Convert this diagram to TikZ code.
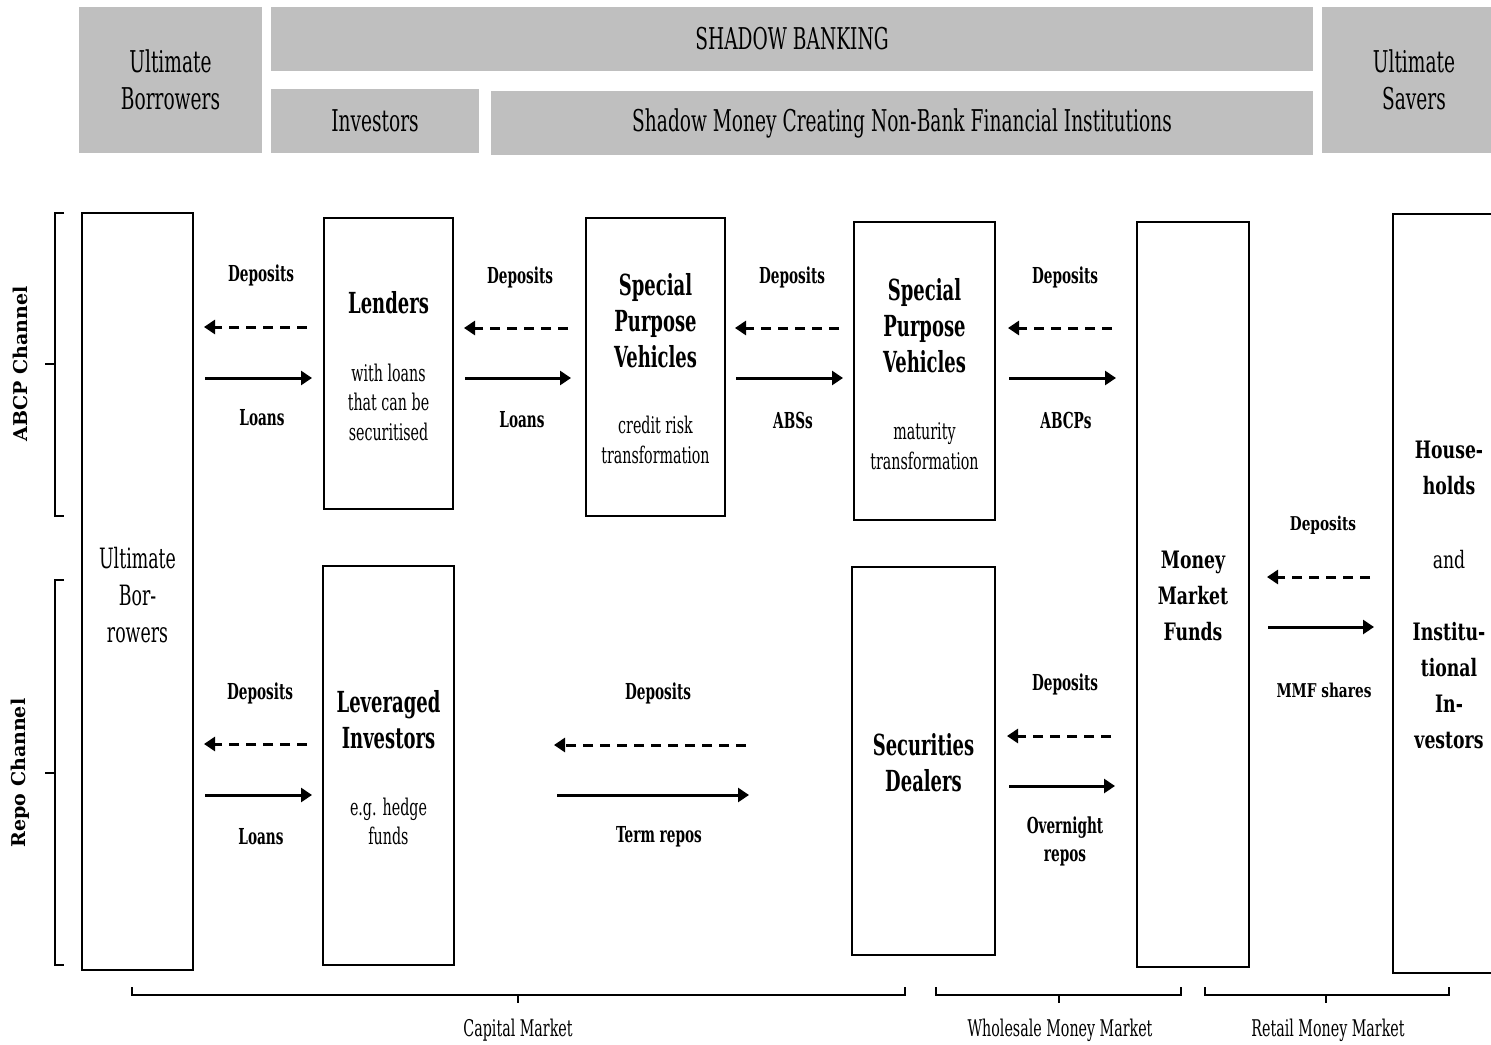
\documentclass[tikz,border=0pt]{standalone}
\usepackage{fontspec}
\setmainfont{DejaVu Serif}
\newfontfamily\cnd[FakeStretch=0.62]{DejaVu Serif}
\newfontfamily\wid[FakeStretch=0.72]{DejaVu Serif}
\usetikzlibrary{arrows.meta}
\definecolor{hdrgrey}{HTML}{BFBFBF}

\begin{document}
\begin{tikzpicture}[x=1pt,y=-1pt,
  hdr/.style={fill=hdrgrey, draw=none, align=center, inner sep=0pt,
    font=\cnd\fontsize{30}{37}\selectfont},
  box/.style={draw, line width=2pt, inner sep=0pt},
  ttl/.style={align=center, font=\cnd\bfseries\fontsize{29}{36}\selectfont},
  sub/.style={align=center, font=\cnd\fontsize{23}{29.5}\selectfont},
  lbl/.style={align=center, font=\cnd\bfseries\fontsize{22}{28}\selectfont},
  wttl/.style={align=center, font=\wid\bfseries\fontsize{24}{36}\selectfont},
  wlbl/.style={align=center, font=\wid\bfseries\fontsize{19}{24}\selectfont},
  chan/.style={rotate=90, font=\bfseries\fontsize{19}{24}\selectfont},
  mkt/.style={font=\cnd\fontsize{23}{28}\selectfont},
  tip/.style={-{Triangle[length=11pt,width=14pt]}},
  depar/.style={tip, line width=3pt, dash pattern=on 10pt off 7pt},
  flowar/.style={tip, line width=3pt},
  brace/.style={line width=2pt}]
\useasboundingbox (0,0) rectangle (1491,1044);

% ---------- header bar ----------
\node[hdr, minimum width=183, minimum height=146] (hub) at (170.5,80) {Ultimate\\Borrowers};
\node[hdr, minimum width=1042, minimum height=64] (hsb) at (792,39) {SHADOW BANKING};
\node[hdr, minimum width=208, minimum height=64] (hinv) at (375,121) {Investors};
\node[hdr, minimum width=822, minimum height=64] (hsm) at (902,123) {Shadow Money Creating Non-Bank Financial Institutions};
\node[hdr, minimum width=184, minimum height=146] (hus) at (1414,80) {Ultimate\\Savers};

% ---------- institution boxes ----------
\node[box, minimum width=111, minimum height=757] (ub) at (137.5,591.5) {};
\node[box, minimum width=129, minimum height=291] (lend) at (388.5,363.5) {};
\node[box, minimum width=139, minimum height=298] (spva) at (655.5,367) {};
\node[box, minimum width=141, minimum height=298] (spvb) at (924.5,371) {};
\node[box, minimum width=131, minimum height=399] (lev) at (388.5,765.5) {};
\node[box, minimum width=143, minimum height=388] (sd) at (923.5,761) {};
\node[box, minimum width=112, minimum height=745] (mmf) at (1193,594.5) {};
\node[box, minimum width=112, minimum height=759] (hh) at (1449,593.5) {};

% ---------- box texts ----------
\node[sub, font=\cnd\fontsize{28}{37}\selectfont] (ubt) at (137.5,595) {Ultimate\\Bor-\\rowers};
\node[ttl] (lendt) at (388.5,303) {Lenders};
\node[sub] (lends) at (388.5,402) {with loans\\that can be\\securitised};
\node[ttl] (spvat) at (655.5,321) {Special\\Purpose\\Vehicles};
\node[sub] (spvas) at (655.5,440) {credit risk\\transformation};
\node[ttl] (spvbt) at (924.5,326) {Special\\Purpose\\Vehicles};
\node[sub] (spvbs) at (924.5,446) {maturity\\transformation};
\node[ttl] (levt) at (388.5,719.5) {Leveraged\\Investors};
\node[sub] (levs) at (388.5,821.5) {e.g. hedge\\funds};
\node[ttl] (sdt) at (923.5,763) {Securities\\Dealers};
\node[wttl] (mmft) at (1193,596) {Money\\Market\\Funds};
\node[wttl] (hha) at (1449,468) {House-\\holds};
\node[wttl, font=\wid\fontsize{24}{36}\selectfont] (hhb) at (1449,560) {and};
\node[wttl] (hhc) at (1449,686) {Institu-\\tional\\In-\\vestors};

% ---------- flows: ABCP channel ----------
\draw[depar, shorten <=16pt, shorten >=10pt] (lend.west |- 0,327) -- (ub.east |- 0,327);
\draw[flowar, shorten <=11pt, shorten >=11pt] (ub.east |- 0,378) -- (lend.west |- 0,378);
\node[lbl] (l1d) at (261,275) {Deposits};
\node[lbl] (l1l) at (262,418) {Loans};

\draw[depar, shorten <=17pt, shorten >=10pt] (spva.west |- 0,328) -- (lend.east |- 0,328);
\draw[flowar, shorten <=11pt, shorten >=14pt] (lend.east |- 0,378) -- (spva.west |- 0,378);
\node[lbl] (l2d) at (520,277) {Deposits};
\node[lbl] (l2l) at (522,420) {Loans};

\draw[depar, shorten <=14pt, shorten >=9pt] (spvb.west |- 0,328) -- (spva.east |- 0,328);
\draw[flowar, shorten <=10pt, shorten >=10pt] (spva.east |- 0,378) -- (spvb.west |- 0,378);
\node[lbl] (l3d) at (792,277) {Deposits};
\node[lbl] (l3l) at (793,420) {ABSs};

\draw[depar, shorten <=24pt, shorten >=12pt] (mmf.west |- 0,328) -- (spvb.east |- 0,328);
\draw[flowar, shorten <=13pt, shorten >=20pt] (spvb.east |- 0,378) -- (mmf.west |- 0,378);
\node[lbl] (l4d) at (1065,277) {Deposits};
\node[lbl] (l4l) at (1066,420) {ABCPs};

% ---------- flows: repo channel ----------
\draw[depar, shorten <=15pt, shorten >=10pt] (lev.west |- 0,744) -- (ub.east |- 0,744);
\draw[flowar, shorten <=11pt, shorten >=10pt] (ub.east |- 0,795) -- (lev.west |- 0,795);
\node[lbl] (l5d) at (260,693) {Deposits};
\node[lbl] (l5l) at (261,837) {Loans};

\draw[depar, shorten <=105pt, shorten >=99pt] (sd.west |- 0,745) -- (lev.east |- 0,745);
\draw[flowar, shorten <=102pt, shorten >=102pt] (lev.east |- 0,795) -- (sd.west |- 0,795);
\node[lbl] (l6d) at (658,693) {Deposits};
\node[lbl] (l6l) at (659,837) {Term repos};

\draw[depar, shorten <=25pt, shorten >=11pt] (mmf.west |- 0,736) -- (sd.east |- 0,736);
\draw[flowar, shorten <=13pt, shorten >=21pt] (sd.east |- 0,786) -- (mmf.west |- 0,786);
\node[lbl] (l7d) at (1065,684) {Deposits};
\node[lbl] (l7l) at (1065,841) {Overnight\\repos};

% ---------- flows: retail ----------
\draw[depar, shorten <=22pt, shorten >=17pt] (hh.west |- 0,577) -- (mmf.east |- 0,577);
\draw[flowar, shorten <=18pt, shorten >=18pt] (mmf.east |- 0,627) -- (hh.west |- 0,627);
\node[wlbl] (l8d) at (1323,525) {Deposits};
\node[wlbl] (l8l) at (1324,690) {MMF shares};

% ---------- channel braces ----------
\draw[brace] (64,213) -- (55,213) -- (55,516) -- (64,516);
\draw[brace] (55,364) -- (45,364);
\node[chan] (abcp) at (20,364) {ABCP Channel};
\draw[brace] (64,580) -- (55,580) -- (55,965) -- (64,965);
\draw[brace] (55,773) -- (45,773);
\node[chan] (repo) at (20,773) {Repo Channel};

% ---------- market braces ----------
\draw[brace] (132,987) -- (132,995) -- (905,995) -- (905,987);
\draw[brace] (518,995) -- (518,1003);
\node[mkt] (cap) at (518,1030) {Capital Market};
\draw[brace] (936,987) -- (936,995) -- (1181,995) -- (1181,987);
\draw[brace] (1059,995) -- (1059,1003);
\node[mkt] (whm) at (1060,1030) {Wholesale Money Market};
\draw[brace] (1205,987) -- (1205,995) -- (1449,995) -- (1449,987);
\draw[brace] (1326,995) -- (1326,1003);
\node[mkt] (rtm) at (1328,1030) {Retail Money Market};
\end{tikzpicture}
\end{document}
